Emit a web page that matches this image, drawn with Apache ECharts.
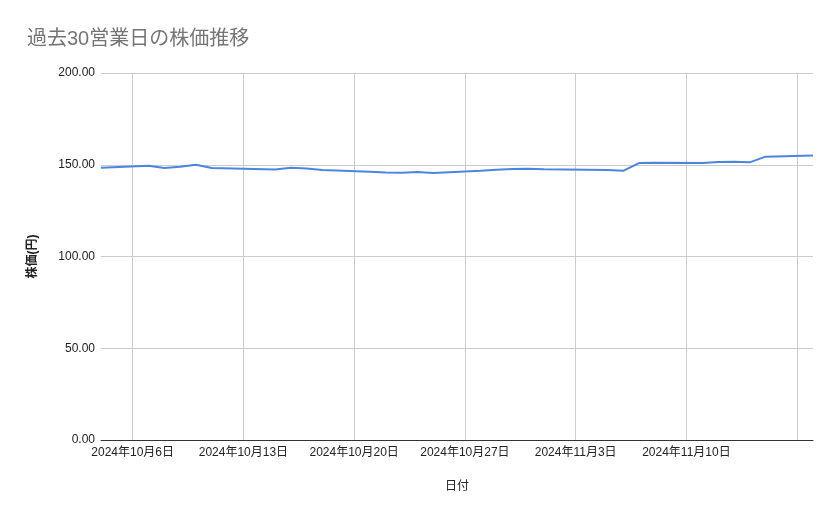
<!DOCTYPE html>
<html>
<head>
<meta charset="utf-8">
<script src="https://cdn.jsdelivr.net/npm/echarts@6/dist/echarts.min.js"></script>
<style>html,body{margin:0;padding:0;background:#fff;}#c{width:839px;height:519px;}</style>
</head>
<body>
<div id="c"></div>
<script>
// Data
var dates = ['2024-10-04','2024-10-07','2024-10-08','2024-10-09','2024-10-10','2024-10-11',
  '2024-10-15','2024-10-16','2024-10-17','2024-10-18',
  '2024-10-21','2024-10-22','2024-10-23','2024-10-24','2024-10-25',
  '2024-10-28','2024-10-29','2024-10-30','2024-10-31','2024-11-01',
  '2024-11-05','2024-11-06','2024-11-07','2024-11-08',
  '2024-11-11','2024-11-12','2024-11-13','2024-11-14','2024-11-15',
  '2024-11-18'];
var prices = [148.4,149.5,148.2,148.9,150.0,148.2,
  147.4,148.3,148.0,147.1,
  146.2,145.8,145.7,146.1,145.5,
  146.7,147.3,147.7,147.8,147.5,
  147.2,146.7,150.9,151.1,
  150.9,151.5,151.6,151.3,154.4,
  155.0];
var tickDates = ['2024-10-06','2024-10-13','2024-10-20','2024-10-27','2024-11-03','2024-11-10','2024-11-17'];
var labelDates = ['2024-10-06','2024-10-13','2024-10-20','2024-10-27','2024-11-03','2024-11-10'];
var axisRange = ['2024-10-04','2024-11-18'];
var yTicks = [0, 50, 100, 150, 200];

var DAY = 86400000;
function dayNum(s){ var p = s.split('-'); return Math.round(Date.UTC(+p[0], +p[1]-1, +p[2]) / DAY); }
function fmt(v){ var d = new Date(Math.round(v) * DAY); return d.getUTCFullYear()+'年'+(d.getUTCMonth()+1)+'月'+d.getUTCDate()+'日'; }

var seriesData = dates.map(function(d,i){ return [dayNum(d), prices[i]]; });
var FONT = 'Arial, "Liberation Sans", "Noto Sans CJK JP", sans-serif';

var chart = echarts.init(document.getElementById('c'), null, {renderer:'canvas'});
chart.setOption({
  animation: false,
  textStyle: {fontFamily: FONT},
  title: {
    text: '過去30営業日の株価推移',
    left: 22, top: 24,
    textStyle: {fontSize: 20, fontWeight: 'normal', color: '#757575', fontFamily: FONT}
  },
  grid: {left: 101, right: 26, top: 73, bottom: 79, containLabel: false},
  xAxis: {
    type: 'value',
    min: dayNum(axisRange[0]),
    max: dayNum(axisRange[1]),
    name: '日付',
    nameLocation: 'middle',
    nameGap: 41,
    nameTextStyle: {fontSize: 12, color: '#222', fontFamily: FONT},
    axisLine: {show: true, lineStyle: {color: '#333', width: 1}},
    axisTick: {show: false, customValues: tickDates.map(dayNum)},
    axisLabel: {
      customValues: labelDates.map(dayNum),
      formatter: fmt,
      fontSize: 12, color: '#222', margin: 7, fontFamily: FONT,
      hideOverlap: false, showMinLabel: true, showMaxLabel: true
    },
    splitLine: {show: true, lineStyle: {color: '#cccccc', width: 1}}
  },
  yAxis: {
    type: 'value',
    min: yTicks[0], max: yTicks[yTicks.length-1], interval: 50,
    name: '株価(円)',
    nameLocation: 'middle',
    nameGap: 62,
    nameRotate: 90,
    nameTextStyle: {fontSize: 12, color: '#222', fontWeight: 'bold', fontFamily: FONT},
    axisLine: {show: false},
    axisTick: {show: false},
    axisLabel: {
      formatter: function(v){ return v.toFixed(2); },
      fontSize: 12, color: '#222', margin: 6, fontFamily: FONT
    },
    splitLine: {show: true, lineStyle: {color: '#cccccc', width: 1}}
  },
  series: [{
    type: 'line',
    data: seriesData,
    showSymbol: false,
    symbol: 'none',
    lineStyle: {color: '#4a86e0', width: 2},
    itemStyle: {color: '#4a86e0'}
  }]
});
</script>
</body>
</html>
